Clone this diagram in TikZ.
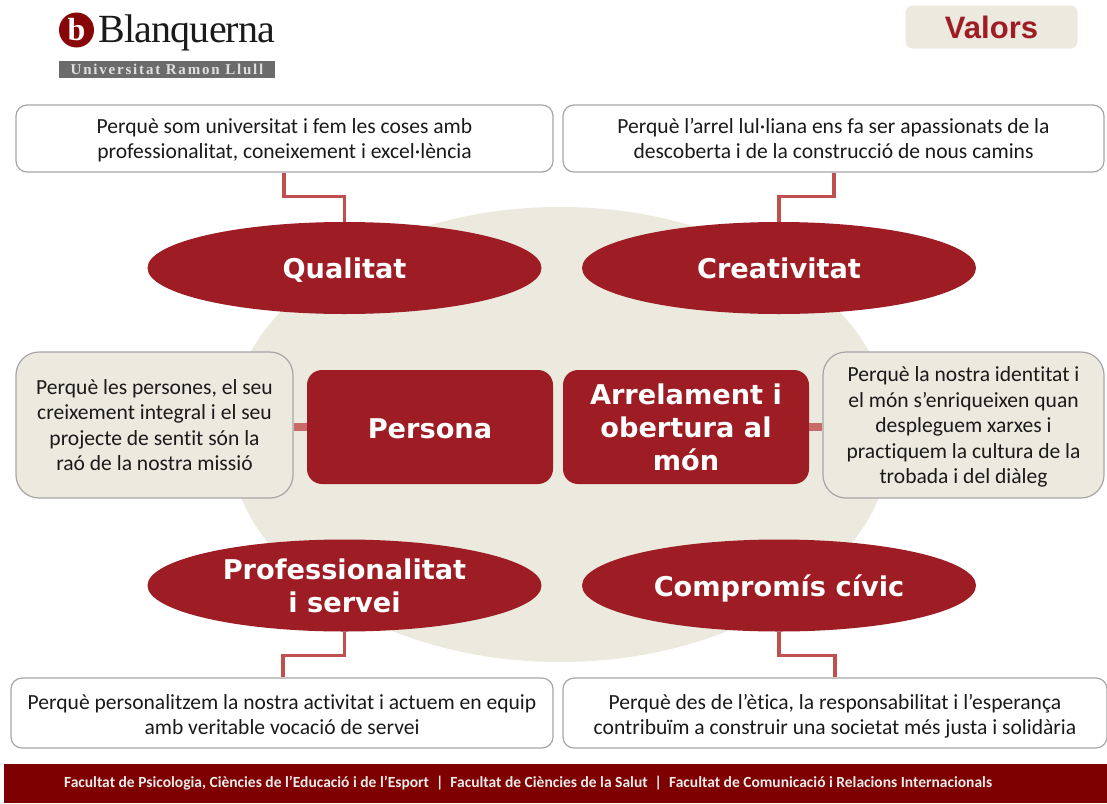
\documentclass[tikz,border=0pt]{standalone}
\usepackage{fontspec}
\setmainfont[Ligatures=NoCommon]{Carlito}
\newfontfamily\headfont{DejaVu Sans}
\newfontfamily\valfont{Liberation Sans}
\newfontfamily\logofont{Liberation Serif}
\definecolor{bred}{HTML}{9E1C24}
\definecolor{cream}{HTML}{ECE9DF}
\definecolor{edgegray}{HTML}{A6A6A6}
\definecolor{linkred}{HTML}{C0504D}
\definecolor{footred}{HTML}{7F0000}
\definecolor{txt}{HTML}{1A1A1A}
\newcommand\firstln{\rule{0pt}{22pt}}
\newcommand\firstlow{\rule{0pt}{25pt}}
\newcommand\lastln{\rule[-7pt]{0pt}{7pt}}
\newcommand\nodepth[1]{\raisebox{0pt}[\height][0pt]{#1}}
\tikzset{x=1pt,y=-1pt,
  textbox/.style={draw=edgegray,line width=1.2pt,rounded corners=11pt,fill=white,inner sep=0pt,align=center,text=txt,font=\fontsize{21.55}{25.5}\selectfont},
  sidebox/.style={textbox,fill=cream,rounded corners=23pt,minimum height=146pt},
  wide/.style={minimum height=67pt},
  oval/.style={ellipse,fill=bred,inner sep=0pt,minimum width=394pt,minimum height=92pt,align=center,text=white,font=\headfont\bfseries\fontsize{27.2}{33}\selectfont},
  core/.style={rounded corners=15pt,fill=bred,inner sep=0pt,minimum width=246pt,minimum height=114pt,align=center,text=white,font=\headfont\bfseries\fontsize{27.2}{33}\selectfont},
  conn/.style={draw=linkred,line width=3.2pt},
  thick link/.style={draw=linkred!85!white,line width=8pt}
}
\usetikzlibrary{shapes.geometric}
\begin{document}
\begin{tikzpicture}
\useasboundingbox (0,0) rectangle (1107,803);
\fill[white] (0,0) rectangle (1107,803);
% backdrop
\node[ellipse,fill=cream,minimum width=664pt,minimum height=455pt,inner sep=0pt] (backdrop) at (560,434.5) {};
% header
\node[circle,fill=footred!75!bred,minimum size=35pt,inner sep=0pt,text=white,font=\logofont\bfseries\fontsize{32}{32}\selectfont] (logoball) at (76.5,30) {b};
\node[anchor=west,inner sep=0pt,text=txt,font=\logofont\fontsize{40}{40}\selectfont] (logotext) at (98,33) {\addfontfeature{LetterSpace=-2}Blanquerna};
\node[fill=black!58,minimum width=216pt,minimum height=17pt,inner sep=0pt,text=white!88!black,font=\logofont\bfseries\fontsize{15}{15}\selectfont] (logobar) at (167,69) {\addfontfeature{LetterSpace=12}Universitat Ramon Llull};
\node[fill=cream,rounded corners=7pt,minimum width=172pt,minimum height=43pt,inner sep=0pt,text=bred,font=\valfont\bfseries\fontsize{31}{31}\selectfont] (valors) at (991.5,27) {Valors};
% top boxes
\node[textbox,wide,minimum width=537pt] (tl) at (284.5,138.5) {\firstln Perquè som universitat i fem les coses amb\\professionalitat, coneixement i excel·lència\lastln};
\node[textbox,wide,minimum width=541pt] (tr) at (833.5,138.5) {\firstln Perquè l’arrel lul·liana ens fa ser apassionats de la\\descoberta i de la construcció de nous camins\lastln};
% ovals
\node[oval] (qualitat) at (344.5,268) {\nodepth{Qualitat}};
\node[oval] (creativitat) at (779,268) {Creativitat};
\node[oval] (professionalitat) at (344.5,585.5) {Professionalitat\\i servei};
\node[oval] (compromis) at (779,585.5) {\nodepth{Compromís cívic}};
% centre
\node[core] (persona) at (430,427) {\raisebox{-1.5pt}[\height][0pt]{Persona}};
\node[core] (arrelament) at (686,427) {Arrelament i\\obertura al\\món};
\node[sidebox,minimum width=277pt] (left) at (154.5,425) {\firstln Perquè les persones, el seu\\creixement integral i el seu\\projecte de sentit són la\\raó de la nostra missió\lastln};
\node[sidebox,minimum width=281pt] (right) at (963.5,425) {\firstln Perquè la nostra identitat i\\el món s’enriqueixen quan\\despleguem xarxes i\\practiquem la cultura de la\\trobada i del diàleg\lastln};
% bottom boxes
\node[textbox,minimum height=70pt,minimum width=542pt] (bl) at (282,713) {\firstlow Perquè personalitzem la nostra activitat i actuem en equip\\amb veritable vocació de servei\lastln};
\node[textbox,minimum height=70pt,minimum width=544pt] (br) at (835,713) {\firstlow Perquè des de l’ètica, la responsabilitat i l’esperança\\contribuïm a construir una societat més justa i solidària\lastln};
% connectors
\coordinate (kneetl) at (284,196.5);
\coordinate (kneetr) at (834,196.5);
\coordinate (kneebl) at (283,655.5);
\coordinate (kneebr) at (835,655.5);
\draw[conn] (kneetl |- tl.south) -- (kneetl) -| (qualitat.north);
\draw[conn] (kneetr |- tr.south) -- (kneetr) -| (creativitat.north);
\draw[conn] (professionalitat.south) |- (kneebl) -- (kneebl |- bl.north);
\draw[conn] (compromis.south) |- (kneebr) -- (kneebr |- br.north);
\draw[thick link] (left.east |- persona.west) -- (persona.west);
\draw[thick link] (arrelament.east) -- (right.west |- arrelament.east);
% footer
\node[fill=footred,minimum width=1103pt,minimum height=39pt,inner sep=0pt,text=white!92!black,font=\bfseries\fontsize{15.5}{17}\selectfont] (footer) at (555.5,783.5) {\hspace{-55pt}Facultat de Psicologia, Ciències de l’Educació i de l’Esport~~|~~Facultat de Ciències de la Salut~~|~~Facultat de Comunicació i Relacions Internacionals};
\end{tikzpicture}
\end{document}
